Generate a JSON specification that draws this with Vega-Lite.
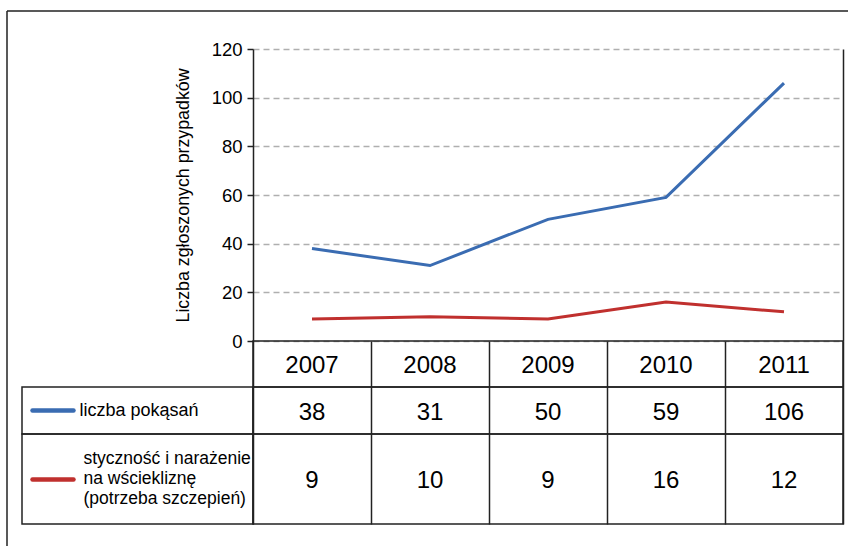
{
  "$schema": "https://vega.github.io/schema/vega-lite/v6.json",
  "padding": {"left": 6, "top": 10, "right": 0, "bottom": 0},
  "autosize": {"type": "pad"},
  "background": "white",
  "config": {
    "font": "Liberation Sans",
    "view": {"stroke": null},
    "text": {"color": "#000"}
  },
  "datasets": {
    "counts": [
      {"year": "2007", "series": "liczba pokąsań", "value": 38},
      {"year": "2008", "series": "liczba pokąsań", "value": 31},
      {"year": "2009", "series": "liczba pokąsań", "value": 50},
      {"year": "2010", "series": "liczba pokąsań", "value": 59},
      {"year": "2011", "series": "liczba pokąsań", "value": 106},
      {"year": "2007", "series": "styczność i narażenie\nna wściekliznę\n(potrzeba szczepień)", "value": 9},
      {"year": "2008", "series": "styczność i narażenie\nna wściekliznę\n(potrzeba szczepień)", "value": 10},
      {"year": "2009", "series": "styczność i narażenie\nna wściekliznę\n(potrzeba szczepień)", "value": 9},
      {"year": "2010", "series": "styczność i narażenie\nna wściekliznę\n(potrzeba szczepień)", "value": 16},
      {"year": "2011", "series": "styczność i narażenie\nna wściekliznę\n(potrzeba szczepień)", "value": 12}
    ],
    "none": []
  },
  "columns": 4,
  "align": "each",
  "bounds": "flush",
  "spacing": {"row": 0, "column": 0},
  "concat": [
    {"width": 15, "height": 38, "data": {"name": "none"}, "mark": "point", "view": {"stroke": "#222", "strokeWidth": 1.5, "strokeDash": [15, 53, 38, 0]}},
    {"width": 231, "height": 38, "data": {"name": "none"}, "mark": "point", "view": {"stroke": "#222", "strokeWidth": 1.5, "strokeDash": [231, 307]}},
    {"width": 590, "height": 38, "data": {"name": "none"}, "mark": "point", "view": {"stroke": "#222", "strokeWidth": 1.5, "strokeDash": [590, 666]}},
    {"width": 5, "height": 38, "data": {"name": "none"}, "mark": "point", "view": {"stroke": "#222", "strokeWidth": 1.5, "strokeDash": [5, 81]}},

    {"width": 15, "height": 292, "data": {"name": "none"}, "mark": "point", "view": {"stroke": "#222", "strokeWidth": 1.5, "strokeDash": [0, 322, 292, 0]}},
    {"width": 231, "height": 292, "data": {"name": "none"}, "mark": "point"},
    {
      "width": 590, "height": 292,
      "data": {"name": "counts"},
      "encoding": {
        "x": {"field": "year", "type": "ordinal", "axis": null, "scale": {"type": "point", "padding": 0.5}}
      },
      "layer": [
        {
          "transform": [{"filter": "datum.series === 'liczba pokąsań'"}],
          "mark": {"type": "line", "color": "#3a6cb2", "strokeWidth": 3},
          "encoding": {
            "y": {
              "field": "value", "type": "quantitative",
              "scale": {"domain": [0, 120]},
              "axis": {
                "orient": "left",
                "values": [0, 20, 40, 60, 80, 100, 120],
                "grid": true, "gridDash": [6, 4], "gridColor": "#afafaf", "gridWidth": 1.3,
                "domain": true, "domainColor": "#222", "domainWidth": 1.5,
                "ticks": true, "tickSize": 6, "tickColor": "#222", "tickWidth": 1.5,
                "labelFont": "Liberation Sans", "labelFontSize": 18.5, "labelColor": "#000", "labelPadding": 5,
                "title": "Liczba zgłoszonych przypadków",
                "titleFont": "Liberation Sans", "titleFontSize": 17.8, "titleFontWeight": "normal",
                "titleColor": "#000", "titlePadding": 19
              }
            }
          }
        },
        {
          "transform": [{"filter": "datum.series !== 'liczba pokąsań'"}],
          "mark": {"type": "line", "color": "#c0302e", "strokeWidth": 3},
          "encoding": {
            "y": {
              "field": "value", "type": "quantitative",
              "scale": {"domain": [0, 120]},
              "axis": {
                "orient": "right", "labels": false, "ticks": false, "grid": false,
                "domain": true, "domainColor": "#222", "domainWidth": 1.5, "title": null
              }
            }
          }
        }
      ],
      "resolve": {"axis": {"y": "independent"}}
    },
    {"width": 5, "height": 292, "data": {"name": "none"}, "mark": "point"},

    {"width": 15, "height": 46, "data": {"name": "none"}, "mark": "point", "view": {"stroke": "#222", "strokeWidth": 1.5, "strokeDash": [0, 76, 46, 0]}},
    {"width": 231, "height": 46, "data": {"name": "none"}, "mark": "point"},
    {
      "width": 590, "height": 46,
      "data": {"name": "counts"},
      "transform": [{"filter": "datum.series === 'liczba pokąsań'"}],
      "view": {"stroke": "#222", "strokeWidth": 1.5},
      "mark": {"type": "text", "fontSize": 24, "font": "Liberation Sans", "color": "#000", "dy": 2},
      "encoding": {
        "x": {
          "field": "year", "type": "nominal",
          "scale": {"type": "band", "paddingInner": 0, "paddingOuter": 0},
          "axis": {"orient": "bottom", "grid": true, "tickBand": "extent", "gridColor": "#222", "gridWidth": 1.5, "labels": false, "ticks": false, "domain": false, "title": null}
        },
        "text": {"field": "year"}
      }
    },
    {"width": 5, "height": 46, "data": {"name": "none"}, "mark": "point"},

    {"width": 15, "height": 47, "data": {"name": "none"}, "mark": "point", "view": {"stroke": "#222", "strokeWidth": 1.5, "strokeDash": [0, 77, 47, 0]}},
    {"width": 231, "height": 47, "data": {"name": "none"}, "mark": "point", "view": {"stroke": "#222", "strokeWidth": 1.5}},
    {
      "width": 590, "height": 47,
      "data": {"name": "counts"},
      "transform": [{"filter": "datum.series === 'liczba pokąsań'"}],
      "view": {"stroke": "#222", "strokeWidth": 1.5},
      "mark": {"type": "text", "fontSize": 24, "font": "Liberation Sans", "color": "#000", "dy": 2},
      "encoding": {
        "x": {
          "field": "year", "type": "nominal",
          "scale": {"type": "band", "paddingInner": 0, "paddingOuter": 0},
          "axis": {"orient": "bottom", "grid": true, "tickBand": "extent", "gridColor": "#222", "gridWidth": 1.5, "labels": false, "ticks": false, "domain": false, "title": null}
        },
        "y": {
          "field": "series", "type": "nominal",
          "scale": {"type": "band", "paddingInner": 0, "paddingOuter": 0},
          "axis": {
            "orient": "left", "offset": 180, "domain": false, "grid": false,
            "ticks": true, "tickSize": 41, "tickWidth": 4.5, "tickColor": "#3a6cb2", "tickCap": "round",
            "labelAlign": "left", "labelPadding": -47, "labelLimit": 0,
            "labelFont": "Liberation Sans", "labelFontSize": 18, "labelColor": "#000",
            "title": null
          }
        },
        "text": {"field": "value"}
      }
    },
    {"width": 5, "height": 47, "data": {"name": "none"}, "mark": "point"},

    {"width": 15, "height": 90, "data": {"name": "none"}, "mark": "point", "view": {"stroke": "#222", "strokeWidth": 1.5, "strokeDash": [0, 120, 90, 0]}},
    {"width": 231, "height": 90, "data": {"name": "none"}, "mark": "point", "view": {"stroke": "#222", "strokeWidth": 1.5}},
    {
      "width": 590, "height": 90,
      "data": {"name": "counts"},
      "transform": [{"filter": "datum.series !== 'liczba pokąsań'"}],
      "view": {"stroke": "#222", "strokeWidth": 1.5},
      "mark": {"type": "text", "fontSize": 24, "font": "Liberation Sans", "color": "#000", "dy": 2},
      "encoding": {
        "x": {
          "field": "year", "type": "nominal",
          "scale": {"type": "band", "paddingInner": 0, "paddingOuter": 0},
          "axis": {"orient": "bottom", "grid": true, "tickBand": "extent", "gridColor": "#222", "gridWidth": 1.5, "labels": false, "ticks": false, "domain": false, "title": null}
        },
        "y": {
          "field": "series", "type": "nominal",
          "scale": {"type": "band", "paddingInner": 0, "paddingOuter": 0},
          "axis": {
            "orient": "left", "offset": 180, "domain": false, "grid": false,
            "ticks": true, "tickSize": 41, "tickWidth": 4.5, "tickColor": "#c0302e", "tickCap": "round",
            "labelAlign": "left", "labelPadding": -51, "labelLimit": 0, "labelOffset": -20,
            "labelExpr": "split(datum.label, '\\n')", "labelLineHeight": 20,
            "labelFont": "Liberation Sans", "labelFontSize": 17.5, "labelColor": "#000",
            "title": null
          }
        },
        "text": {"field": "value"}
      }
    },
    {"width": 5, "height": 90, "data": {"name": "none"}, "mark": "point"},

    {"width": 15, "height": 22, "data": {"name": "none"}, "mark": "point", "view": {"stroke": "#222", "strokeWidth": 1.5, "strokeDash": [0, 52, 22, 0]}}
  ]
}
